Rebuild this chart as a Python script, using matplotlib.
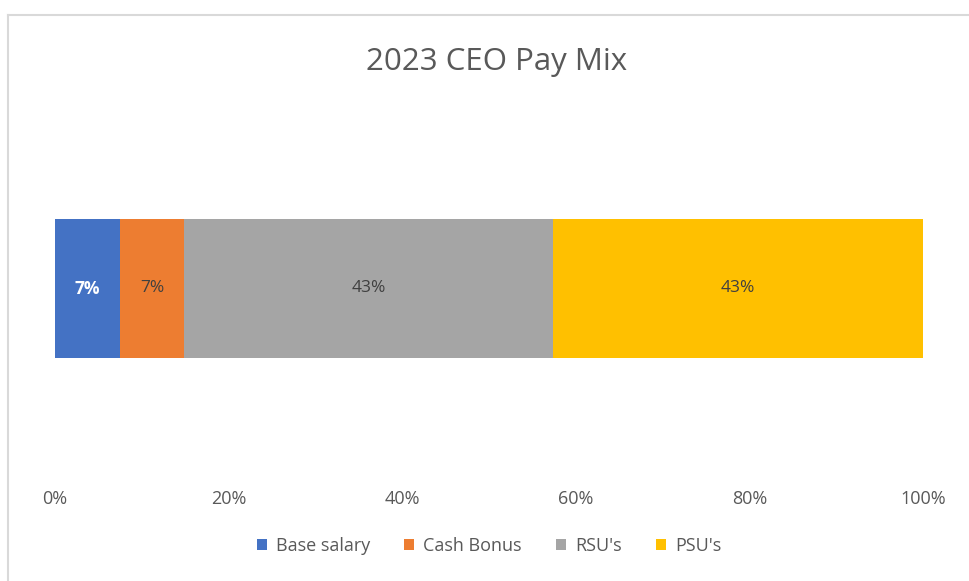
import matplotlib.pyplot as plt
from matplotlib.lines import Line2D

# pay mix shares, percent of total
categories = ["Base salary", "Cash Bonus", "RSU's", "PSU's"]
shares = [7.49, 7.37, 42.51, 42.63]
colors = ["#4472C4", "#ED7D31", "#A5A5A5", "#FFC000"]
label_colors = ["white", "#404040", "#404040", "#404040"]
label_weights = ["bold", "normal", "normal", "normal"]
ticks = [0, 20, 40, 60, 80, 100]

plt.rcParams['font.family'] = ['Open Sans', 'DejaVu Sans']

fig = plt.figure(figsize=(9.69, 5.81), dpi=100)
ax = fig.add_axes([55 / 969, 1 - 477 / 581, 868 / 969, 377 / 581])

left = 0
for name, val, col, lc, lw in zip(categories, shares, colors, label_colors, label_weights):
    ax.barh(0, val, left=left, height=0.369, color=col, label=name)
    ax.text(left + val / 2, 0, f"{val:.0f}%", ha='center', va='center',
            color=lc, fontsize=12.5, fontweight=lw)
    left += val

ax.set_xlim(0, 100)
ax.set_ylim(-0.5, 0.5)
ax.set_xticks(ticks)
ax.set_xticklabels([f"{t}%" for t in ticks], color="#595959", fontsize=13)
ax.tick_params(axis='x', length=0, pad=9)
ax.set_yticks([])
for s in ax.spines.values():
    s.set_visible(False)

fig.text(497 / 969, 1 - 62 / 581, "2023 CEO Pay Mix", ha='center', va='center',
         fontsize=22.5, color="#595959")

ax.legend(loc='center', bbox_to_anchor=(489 / 969, 1 - 546 / 581),
          bbox_transform=fig.transFigure, ncol=4, frameon=False,
          handlelength=0.55, handleheight=0.55, handletextpad=0.5,
          columnspacing=1.9, fontsize=13, labelcolor="#595959")

# light chart-area border (top and left edges visible)
fig.add_artist(Line2D([8 / 969, 1], [1 - 15 / 581, 1 - 15 / 581], color="#D9D9D9", lw=1.5))
fig.add_artist(Line2D([8 / 969, 8 / 969], [0, 1 - 15 / 581], color="#D9D9D9", lw=1.5))

fig.savefig("out.png", dpi=100)
